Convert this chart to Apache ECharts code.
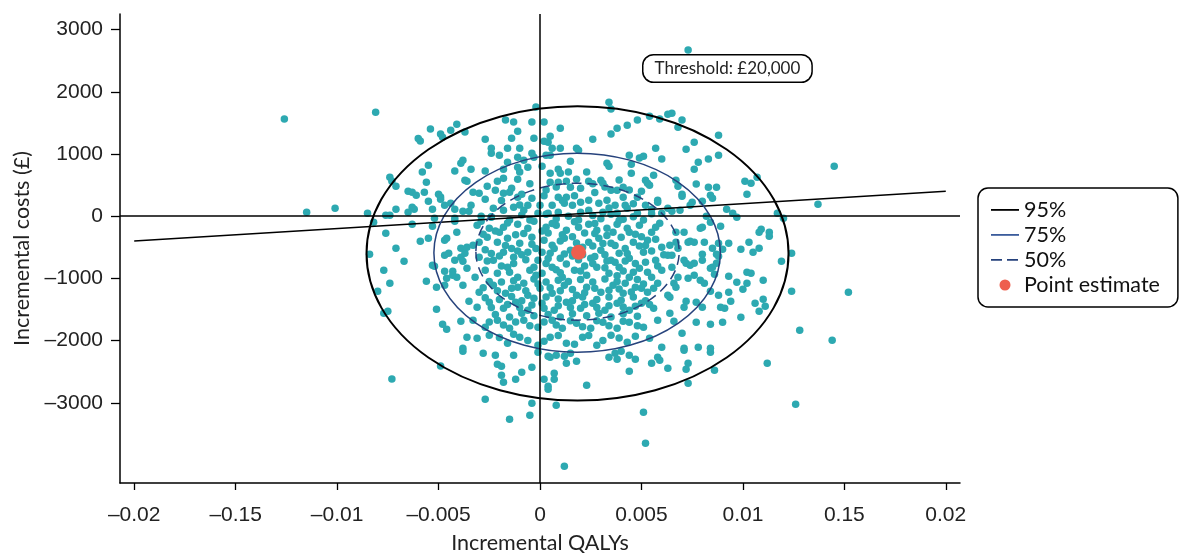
<!DOCTYPE html>
<html>
<head>
<meta charset="utf-8">
<script src="https://cdn.jsdelivr.net/npm/echarts@6/dist/echarts.min.js"></script>
<style>
  html, body { margin: 0; padding: 0; background: #fff; }
  #main { width: 1180px; height: 556px; }
</style>
</head>
<body>
<div id="main"></div>
<script>
// tick values and the labels printed under them (labels kept as in the figure)
var xTickValues = [-0.02, -0.015, -0.01, -0.005, 0, 0.005, 0.01, 0.015, 0.02];
var xTickLabels = ['\u20130.02', '\u20130.15', '\u20130.01', '\u20130.005', '0', '0.005', '0.01', '0.15', '0.02'];
var yTickValues = [-3000, -2000, -1000, 0, 1000, 2000, 3000];

// bootstrap replicates: [incremental QALYs, incremental costs]
var replicates = [
  // far left / upper left
  [-0.0126,1560],[-0.0081,1670],[-0.0060,1250],[-0.0059,1210],[-0.0054,1400],[-0.0049,1320],[-0.0048,1270],
  [-0.0044,1383],[-0.0041,1479],[-0.0037,1351],[-0.0039,852],[-0.0038,900],[-0.0042,724],[-0.0055,820],
  [-0.0058,708],[-0.0056,547],[-0.0037,579],[-0.0074,627],[-0.0073,563],[-0.0071,482],[-0.0065,402],
  [-0.0063,386],[-0.0061,338],[-0.0057,386],[-0.0050,354],[-0.0049,306],[-0.0049,273],[-0.0055,241],
  [-0.0044,209],[-0.0047,177],[-0.0042,113],[-0.0115,64],[-0.0101,129],[-0.0085,48],[-0.0076,16],
  [-0.0074,16],[-0.0071,113],[-0.0063,145],[-0.0062,110],[-0.0065,64],[-0.0053,113],[-0.0052,-32],
  [-0.0042,-32],[-0.0038,80],[-0.0035,80],[-0.0036,563],
  // left, below zero
  [-0.0082,-96],[-0.0076,-273],[-0.0071,-515],[-0.0084,-611],[-0.0067,-724],[-0.0077,-868],[-0.0074,-1077],
  [-0.0080,-1206],[-0.0077,-1560],[-0.0075,-1528],[-0.0063,-129],[-0.0053,-161],[-0.0059,-402],[-0.0055,-354],
  [-0.0047,-386],[-0.0046,-354],[-0.0041,-257],[-0.0047,-627],[-0.0045,-595],[-0.0042,-708],[-0.0039,-659],
  [-0.0039,-515],[-0.0037,-595],[-0.0036,-498],[-0.0038,-724],[-0.0053,-788],[-0.0052,-804],[-0.0047,-884],
  [-0.0043,-884],[-0.0043,-949],[-0.0041,-981],[-0.0046,-997],[-0.0056,-1045],[-0.0051,-1142],[-0.0047,-1110],
  [-0.0038,-1110],[-0.0036,-836],[-0.0035,-1367],[-0.0051,-1495],[-0.0039,-1688],[-0.0048,-1737],[-0.0046,-1817],
  [-0.0036,-1946],[-0.0038,-2123],[-0.0042,-80],[-0.0038,-2170],[-0.0049,-2410],[-0.0073,-2620],
  // bottom
  [-0.0028,-2203],[-0.0022,-2235],[-0.0013,-2235],[-0.0021,-2380],[-0.0019,-2412],[-0.0019,-2557],[-0.0018,-2669],
  [-0.0012,-2621],[-0.0009,-2508],[-0.0004,-2428],[-0.0001,-2187],[0.0004,-2251],[0.0005,-2267],[0.0008,-2235],
  [0.0012,-2251],[0.0015,-2203],[0.0013,-2364],[0.0018,-2332],[0.0007,-2525],[0.0007,-2621],[0.0002,-2621],
  [0.0004,-2734],[0.0004,-2782],[0.0023,-2718],[-0.0004,-3007],[0.0008,-3039],[-0.0027,-2943],[-0.0015,-3264],
  [-0.0005,-3200],[0.0012,-4020],[0.0034,-2267],[0.0037,-2203],[0.0038,-2299],[0.0040,-2171],[0.0044,-2235],
  [0.0047,-2299],[0.0044,-2492],[0.0055,-2364],[0.0058,-2267],[0.0059,-2316],[0.0063,-2444],[0.0051,-3152],
  [0.0052,-3650],[0.0071,-2155],[0.0084,-2187],[0.0073,-2364],[0.0072,-2460],[0.0086,-2476],[0.0073,-2685],
  [0.0112,-2364],[0.0126,-3023],
  // right, below zero
  [0.0124,-595],[0.0119,-724],[0.0124,-1206],[0.0152,-1222],[0.0128,-1833],[0.0144,-1994],
  [0.0109,-209],[0.0108,-257],[0.0113,-257],[0.0113,-322],[0.0103,-418],[0.0108,-515],[0.0105,-579],[0.0099,-531],
  [0.0093,-434],[0.0093,-965],[0.0102,-900],[0.0104,-917],[0.0097,-1061],[0.0102,-1077],[0.0110,-1029],[0.0100,-1174],
  [0.0093,-1222],[0.0094,-1367],[0.0088,-1270],[0.0106,-1399],[0.0110,-1335],[0.0111,-1447],[0.0108,-1528],
  [0.0099,-1624],[0.0090,-1704],[0.0084,-1737],[0.0077,-1704],[0.0089,-1463],[0.0091,-1479],[0.0084,-1206],
  [0.0080,-1463],[0.0077,-1383],[0.0072,-1367],[0.0071,-1463],[0.0066,-1688],[0.0070,-1881],[0.0071,-2123],
  [0.0078,-2107],[0.0084,-2123],
  [0.0089,-161],[0.0084,-96],[0.0080,-177],[0.0079,-193],[0.0071,-257],[0.0067,-257],[0.0073,-418],[0.0076,-418],
  [0.0081,-418],[0.0074,-402],[0.0067,-418],[0.0068,-515],[0.0085,-515],[0.0088,-434],[0.0090,-531],[0.0080,-611],
  [0.0087,-611],[0.0088,-643],[0.0080,-708],[0.0071,-708],[0.0072,-756],[0.0074,-788],[0.0076,-756],[0.0085,-820],
  [0.0087,-756],[0.0084,-836],[0.0086,-933],[0.0076,-949],[0.0079,-1029],[0.0081,-1077],[0.0073,-997],[0.0068,-981],
  [0.0066,-1077],[0.0067,-1142],[0.0064,-1302],[0.0064,-1560],[0.0065,-627],[0.0065,-820],
  // right, above zero
  [0.0065,1656],[0.0070,1544],[0.0068,1431],[0.0088,1302],[0.0076,1190],[0.0072,1077],[0.0088,981],[0.0083,917],
  [0.0078,868],[0.0076,756],[0.0145,804],[0.0107,627],[0.0101,563],[0.0104,531],[0.0102,354],[0.0087,466],
  [0.0083,466],[0.0084,338],[0.0085,289],[0.0077,515],[0.0067,579],[0.0068,482],[0.0070,354],[0.0070,322],
  [0.0075,225],[0.0074,177],[0.0080,241],[0.0065,80],[0.0069,96],[0.0082,0],[0.0092,113],[0.0095,48],
  [0.0097,-16],[0.0137,193],[0.0117,48],[0.0120,-32],[0.0073,2670],
  // top middle
  [-0.0002,1753],[0.0034,1833],[0.0035,1721],[0.0054,1608],[0.0059,1560],[0.0063,1640],[0.0048,1544],[0.0043,1463],
  [0.0038,1415],[0.0035,1319],[-0.0017,1544],[-0.0013,1512],[-0.0004,1512],[0.0002,1512],[0.0010,1415],[-0.0011,1367],
  [-0.0027,1238],[-0.0014,1254],[-0.0003,1254],[0.0005,1286],[0.0002,1206],[0.0004,1190],[0.0026,1238],[-0.0024,1093],
  [-0.0024,1013],[-0.0020,981],[-0.0016,1093],[-0.0010,1093],[-0.0011,949],[-0.0004,1013],[-0.0003,949],[0.0006,1093],
  [0.0005,981],[0.0003,981],[0.0010,1093],[0.0018,1093],[0.0019,1061],[0.0015,884],[0.0033,852],[0.0034,804],
  [0.0044,981],[0.0049,933],[0.0051,965],[0.0057,1093],[0.0060,917],[0.0045,836],[0.0045,691],[0.0052,579],
  [0.0056,659],[0.0054,498],
  [-0.0034,756],[-0.0027,724],[-0.0018,756],[-0.0018,611],[-0.0016,868],[-0.0011,788],[-0.0010,708],[-0.0011,595],
  [-0.0006,788],[-0.0008,900],[0.0001,804],[0.0005,691],[0.0009,756],[0.0010,691],[0.0014,708],[0.0005,547],
  [0.0009,547],[0.0015,466],[0.0018,595],[0.0023,708],[0.0024,563],[0.0030,579],[0.0031,531],[0.0035,418],
  [0.0038,418],[0.0041,466],[0.0041,305],[0.0048,305],[0.0058,257],[0.0058,225],
  [0.0042,177],[0.0053,531],[-0.0033,386],[-0.0027,273],[-0.0030,370],[-0.0022,418],[-0.0018,370],[-0.0015,386],
  [-0.0011,305],[-0.0009,354],[-0.0006,177],[-0.0008,96],[-0.0004,289],[0.0000,177],[-0.0001,48],[-0.0023,129],
  [-0.0018,96],[-0.0013,145],[0.0006,177],[0.0004,48],[0.0009,64],[0.0009,305],[0.0013,305],[0.0012,209],
  [0.0016,177],[0.0020,225],[0.0020,64],[0.0024,257],[0.0024,96],[0.0029,209],[0.0033,257],[0.0031,64],
  [0.0037,177],[0.0038,48],[0.0043,129],[0.0048,48],[0.0052,177],[0.0063,129],[0.0060,48],[-0.0034,177],
  [-0.0029,0],[-0.0024,-16],
  [-0.0026,480],[-0.0021,560],[-0.0014,450],[-0.0005,520],[0.0003,420],[0.0008,470],[0.0013,560],[0.0020,450],
  [0.0026,520],[0.0032,470],[0.0039,580],[0.0044,420],[0.0050,400],
  // dense core
  [-0.0031,-145],[-0.0025,-193],[-0.0018,-177],[-0.0011,-129],[-0.0006,-193],[0.0003,-177],[0.0008,-145],[0.0013,-225],
  [0.0019,-177],[0.0024,-129],[0.0028,-225],[0.0033,-193],[0.0038,-129],[0.0043,-193],[0.0049,-145],[0.0055,-257],
  [0.0059,-113],
  [-0.0033,-466],[-0.0026,-338],[-0.0021,-418],[-0.0016,-354],[-0.0010,-434],[-0.0004,-338],[0.0002,-386],[0.0006,-466],
  [0.0012,-354],[0.0024,-418],[0.0029,-354],[0.0035,-434],[0.0040,-338],[0.0046,-418],[0.0053,-386],[0.0060,-498],
  [0.0064,-466],
  [-0.0030,-659],[-0.0023,-708],[-0.0018,-579],[-0.0013,-659],[-0.0006,-579],[-0.0001,-708],[0.0005,-595],[0.0010,-675],
  [0.0015,-547],[0.0025,-675],[0.0030,-547],[0.0035,-708],[0.0039,-595],[0.0044,-675],[0.0051,-579],[0.0057,-708],
  [0.0063,-627],
  [-0.0032,-981],[-0.0027,-868],[-0.0021,-917],[-0.0016,-820],[-0.0011,-981],[-0.0005,-868],[0.0001,-917],[0.0006,-820],
  [0.0011,-981],[0.0017,-868],[0.0023,-949],[0.0028,-820],[0.0034,-917],[0.0039,-820],[0.0044,-981],[0.0049,-836],
  [0.0055,-981],[0.0060,-868],
  [-0.0030,-1222],[-0.0023,-1110],[-0.0017,-1238],[-0.0011,-1142],[-0.0006,-1270],[0.0000,-1158],[0.0006,-1238],
  [0.0012,-1110],[0.0018,-1270],[0.0023,-1142],[0.0030,-1222],[0.0036,-1110],[0.0041,-1238],[0.0047,-1142],
  [0.0053,-1222],[0.0058,-1077],[0.0063,-1270],
  [-0.0031,-1463],[-0.0025,-1383],[-0.0018,-1479],[-0.0012,-1383],[-0.0006,-1512],[0.0001,-1399],[0.0007,-1512],
  [0.0013,-1383],[0.0020,-1479],[0.0026,-1399],[0.0032,-1512],[0.0038,-1399],[0.0044,-1512],[0.0050,-1399],[0.0056,-1479],
  [-0.0033,-1672],[-0.0027,-1785],[-0.0021,-1672],[-0.0015,-1801],[-0.0008,-1672],[-0.0001,-1785],[0.0006,-1672],
  [0.0011,-1801],[0.0018,-1720],[0.0025,-1801],[0.0031,-1704],[0.0038,-1801],[0.0044,-1704],[0.0051,-1785],[0.0058,-1672],
  [-0.0031,-1962],[-0.0025,-1914],[-0.0016,-2042],[-0.0010,-1946],[-0.0001,-2074],[0.0005,-1946],[0.0013,-2042],
  [0.0021,-1946],[0.0028,-2074],[0.0035,-1914],[0.0043,-2026],[0.0054,-1962],[0.0060,-2107],
  [-0.0028,-290],[-0.0020,-260],[-0.0014,-520],[-0.0008,-280],[-0.0002,-520],[0.0004,-270],[0.0010,-400],[0.0016,-330],
  [0.0021,-500],[0.0027,-280],[0.0031,-440],[0.0036,-260],[0.0042,-520],[0.0047,-290],[0.0052,-470],[0.0057,-370],
  [-0.0027,-540],[-0.0019,-800],[-0.0013,-760],[-0.0007,-700],[-0.0003,-820],[0.0003,-760],[0.0008,-860],[0.0013,-770],
  [0.0019,-700],[0.0022,-800],[0.0026,-760],[0.0032,-830],[0.0037,-740],[0.0041,-880],[0.0047,-760],[0.0053,-900],
  [-0.0025,-1050],[-0.0019,-1060],[-0.0013,-1040],[-0.0008,-1080],[-0.0003,-1010],[0.0003,-1060],[0.0009,-1030],
  [0.0014,-1050],[0.0020,-1020],[0.0026,-1060],[0.0032,-1010],[0.0038,-1050],[0.0042,-1080],[0.0048,-1020],[0.0051,-1090],
  [-0.0027,-1310],[-0.0020,-1340],[-0.0014,-1290],[-0.0009,-1360],[-0.0003,-1320],[0.0003,-1300],[0.0009,-1330],
  [0.0016,-1360],[0.0021,-1300],[0.0028,-1340],[0.0034,-1300],[0.0040,-1350],[0.0046,-1300],[0.0052,-1360],
  [-0.0022,-1580],[-0.0015,-1620],[-0.0009,-1560],[-0.0003,-1600],[0.0004,-1580],[0.0010,-1620],[0.0016,-1570],
  [0.0023,-1600],[0.0029,-1560],[0.0035,-1620],[0.0041,-1570],[0.0048,-1610],
  [-0.0024,-10],[-0.0015,-60],[-0.0009,20],[-0.0003,-80],[0.0003,30],[0.0008,-40],[0.0014,0],[0.0019,-60],
  [0.0026,10],[0.0030,-40],[0.0035,30],[0.0041,-50],[0.0046,-10],[0.0051,-60],[0.0055,40],
  [-0.0019,250],[-0.0010,180],[0.0002,330],[0.0011,250],[0.0017,330],[0.0027,380],[0.0034,130],[0.0046,200],[0.0055,110],
  [-0.0029,-80],[-0.0022,-240],[-0.0016,-110],[-0.0012,-300],[-0.0005,-60],[0.0001,-240],[0.0006,-120],[0.0011,-300],
  [0.0017,-90],[0.0022,-270],[0.0027,-120],[0.0033,-310],[0.0039,-70],[0.0044,-260],[0.0050,-330],[0.0057,-180],
  [-0.0030,-420],[-0.0024,-600],[-0.0017,-470],[-0.0011,-560],[-0.0004,-450],[0.0001,-580],[0.0007,-520],[0.0012,-610],
  [0.0018,-430],[0.0021,-620],[0.0026,-480],[0.0032,-620],[0.0037,-470],[0.0043,-600],[0.0049,-480],[0.0055,-560],
  [0.0061,-620],
  [-0.0026,-720],[-0.0020,-640],[-0.0015,-900],[-0.0009,-620],[-0.0002,-950],[0.0004,-680],[0.0010,-910],[0.0016,-640],
  [0.0020,-880],[0.0027,-650],[0.0033,-720],[0.0038,-960],[0.0042,-720],[0.0046,-900],[0.0052,-740],[0.0058,-800],
  [-0.0028,-1150],[-0.0021,-1200],[-0.0014,-1160],[-0.0007,-1200],[-0.0001,-1090],[0.0005,-1150],[0.0010,-1200],
  [0.0016,-1180],[0.0022,-1230],[0.0027,-1160],[0.0034,-1190],[0.0039,-1170],[0.0045,-1220],[0.0050,-1160],[0.0056,-1160],
  [-0.0024,-1470],[-0.0016,-1420],[-0.0010,-1470],[-0.0004,-1430],[0.0002,-1480],[0.0009,-1440],[0.0015,-1470],
  [0.0022,-1420],[0.0028,-1470],[0.0034,-1440],[0.0041,-1460],[0.0047,-1450],[0.0054,-1420],
  [-0.0025,-1700],[-0.0018,-1750],[-0.0012,-1700],[-0.0005,-1760],[0.0002,-1700],[0.0008,-1750],[0.0015,-1680],
  [0.0021,-1780],[0.0028,-1680],[0.0034,-1760],[0.0041,-1690],[0.0048,-1760],
  [-0.0020,-1950],[-0.0013,-1900],[-0.0006,-2000],[0.0002,-2010],[0.0009,-1920],[0.0017,-2060],[0.0024,-1920],
  [0.0031,-2000],[0.0039,-1960],[0.0047,-1930]
];

var pointEstimate = [[0.0019, -580]];
// confidence ellipses: [centre x, centre y, full width (QALYs), full height (£)]
var ellipse95 = [[0.00185, -600, 0.0208, 4730]];
var ellipse75 = [[0.00183, -587, 0.01412, 3200]];
var ellipse50 = [[0.00185, -571, 0.01002, 2202]];
var thresholdLine = [[-0.02, -400], [0.02, 400]];

var TEAL = '#2da9b1';
var NAVY = '#26427c';

function ellipseItem(params, api) {
  var c = api.coord([api.value(0), api.value(1)]);
  var s = api.size([api.value(2), api.value(3)], [api.value(0), api.value(1)]);
  var rx = s[0] / 2, ry = s[1] / 2;
  var d = 'M' + (c[0] - rx) + ',' + c[1] +
    ' A' + rx + ',' + ry + ' 0 1 0 ' + (c[0] + rx) + ',' + c[1] +
    ' A' + rx + ',' + ry + ' 0 1 0 ' + (c[0] - rx) + ',' + c[1] + ' Z';
  var st = params.seriesName === '50%'
    ? { stroke: NAVY, lineWidth: 1.5, lineDash: [10, 6], fill: null }
    : { stroke: params.seriesName === '95%' ? '#000' : NAVY, lineWidth: params.seriesName === '95%' ? 2 : 1.5, fill: null };
  return { type: 'path', shape: { pathData: d }, style: st };
}

var lineIcon = 'path://M0,0 M0,6.5H28V8.3H0Z M28,15';
var dashIcon = 'path://M0,0 M0,6.5H11V8.3H0Z M16,6.5H27V8.3H16Z M28,15';
var dotIcon = 'path://M0,0 M28,15 M19.5,7.5 A5.5,5.5 0 1 0 8.5,7.5 A5.5,5.5 0 1 0 19.5,7.5 Z';

var chart = echarts.init(document.getElementById('main'), null, { renderer: 'canvas' });

function xLabel(v) {
  for (var i = 0; i < xTickValues.length; i++) {
    if (Math.abs(xTickValues[i] - v) < 1e-7) return xTickLabels[i];
  }
  return '';
}

var option = {
  animation: false,
  backgroundColor: '#fff',
  grid: { left: 120, right: 220, top: 14, bottom: 73, containLabel: false, outerBoundsMode: 'none' },
  xAxis: {
    type: 'value', min: -0.0207, max: 0.0207,
    name: 'Incremental QALYs', nameLocation: 'middle', nameGap: 49,
    nameTextStyle: { fontFamily: 'Lato', fontSize: 21.5, color: '#222' },
    splitLine: { show: false },
    axisLine: { onZero: false, lineStyle: { color: '#000', width: 1.5 } },
    axisTick: { show: true, inside: false, length: 7, customValues: xTickValues, lineStyle: { color: '#000', width: 1.3 } },
    axisLabel: { customValues: xTickValues, formatter: xLabel, margin: 22,
      fontFamily: 'Liberation Sans', fontSize: 21, color: '#222' }
  },
  yAxis: {
    type: 'value', min: -4290, max: 3250,
    name: 'Incremental costs (\u00a3)', nameLocation: 'middle', nameGap: 87,
    nameTextStyle: { fontFamily: 'Lato', fontSize: 21.5, color: '#222' },
    splitLine: { show: false },
    axisLine: { onZero: false, lineStyle: { color: '#000', width: 1.5 } },
    axisTick: { show: true, inside: false, length: 9, customValues: yTickValues, lineStyle: { color: '#000', width: 1.3 } },
    axisLabel: { customValues: yTickValues, margin: 17,
      formatter: function (v) { return v < 0 ? '\u2013' + Math.abs(v) : String(v); },
      fontFamily: 'Liberation Sans', fontSize: 21, color: '#222' }
  },
  legend: {
    orient: 'vertical', left: 978, top: 188,
    padding: [11, 18, 11, 13], itemGap: 3, itemWidth: 28, itemHeight: 15, itemTextGap: 11,
    backgroundColor: '#fff', borderColor: '#000', borderWidth: 1.5, borderRadius: 10,
    textStyle: { fontFamily: 'Lato', fontSize: 21.5, color: '#111', lineHeight: 22 },
    data: [
      { name: '95%', icon: lineIcon, itemStyle: { color: '#000' } },
      { name: '75%', icon: lineIcon, itemStyle: { color: '#3b5c9c' } },
      { name: '50%', icon: dashIcon, itemStyle: { color: NAVY } },
      { name: 'Point estimate', icon: dotIcon, itemStyle: { color: '#ee5f4e' } }
    ]
  },
  graphic: [{
    type: 'text', left: 642, top: 54, z: 10,
    style: {
      text: 'Threshold: \u00a320,000', fontFamily: 'Lato', fontSize: 17, fill: '#222',
      backgroundColor: '#fff', borderColor: '#000', borderWidth: 1.5, borderRadius: 10,
      padding: [5, 11, 4, 11]
    }
  }],
  series: [
    {
      name: 'Replicates', type: 'scatter', data: replicates, symbolSize: 7.5, z: 2,
      itemStyle: { color: TEAL, opacity: 1 }
    },
    {
      name: 'Threshold', type: 'line', data: thresholdLine, symbol: 'none', z: 3,
      lineStyle: { color: '#000', width: 1.5 },
      markLine: {
        silent: true, symbol: 'none', label: { show: false },
        lineStyle: { color: '#000', width: 1.5, type: 'solid' },
        data: [{ xAxis: 0 }, { yAxis: 0 }]
      }
    },
    { name: '95%', type: 'custom', data: ellipse95, renderItem: ellipseItem, z: 4, itemStyle: { color: '#000' } },
    { name: '75%', type: 'custom', data: ellipse75, renderItem: ellipseItem, z: 4, itemStyle: { color: NAVY } },
    { name: '50%', type: 'custom', data: ellipse50, renderItem: ellipseItem, z: 4, itemStyle: { color: NAVY } },
    {
      name: 'Point estimate', type: 'scatter', data: pointEstimate, symbolSize: 15, z: 6,
      itemStyle: { color: '#ee5f4e', opacity: 1 }
    }
  ]
};

chart.setOption(option);
</script>
</body>
</html>
